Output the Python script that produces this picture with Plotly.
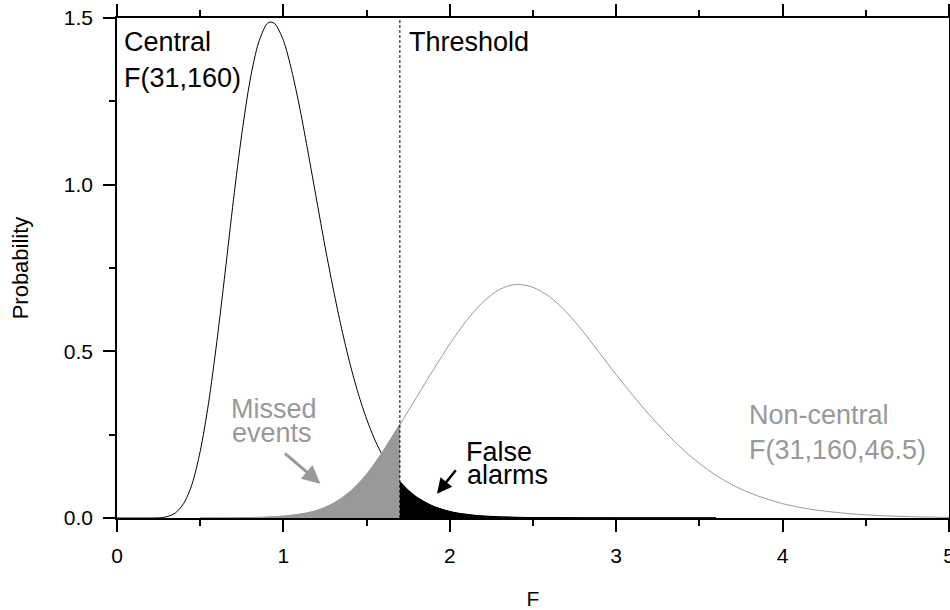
import plotly.graph_objects as go

# ---------------- data ----------------
central_x = [0.0, 0.2, 0.25, 0.3, 0.35, 0.4, 0.45, 0.5, 0.55, 0.6, 0.65, 0.7, 0.75, 0.8,
             0.85, 0.9, 0.925, 0.95, 1.0, 1.05, 1.1, 1.15, 1.2, 1.25, 1.3, 1.35, 1.4,
             1.45, 1.5, 1.55, 1.6, 1.65, 1.7, 1.75, 1.8, 1.9, 2.0, 2.1, 2.2, 2.4, 2.6,
             3.0, 3.6]
central_y = [0.0, 0.0, 0.0005, 0.004, 0.015, 0.043, 0.100, 0.200, 0.344, 0.529, 0.738,
             0.955, 1.152, 1.314, 1.425, 1.482, 1.488, 1.482, 1.433, 1.342, 1.226, 1.092,
             0.953, 0.815, 0.686, 0.568, 0.463, 0.373, 0.297, 0.234, 0.183, 0.141, 0.108,
             0.082, 0.062, 0.035, 0.019, 0.0103, 0.0055, 0.0015, 0.0004, 0.0, 0.0]

noncentral_x = [0.5, 0.7, 0.8, 0.9, 1.0, 1.1, 1.2, 1.3, 1.4, 1.5, 1.6, 1.7, 1.8, 1.9, 2.0,
                2.1, 2.2, 2.3, 2.4, 2.5, 2.6, 2.7, 2.8, 2.9, 3.0, 3.1, 3.2, 3.3, 3.4, 3.5,
                3.6, 3.7, 3.8, 3.9, 4.0, 4.1, 4.2, 4.3, 4.4, 4.5, 4.6, 4.7, 4.8, 4.9, 5.0]
noncentral_y = [0.0, 0.0002, 0.0008, 0.002, 0.005, 0.011, 0.022, 0.043, 0.078, 0.130, 0.200,
                0.280, 0.362, 0.444, 0.522, 0.592, 0.648, 0.686, 0.701, 0.692, 0.664, 0.618,
                0.560, 0.495, 0.430, 0.368, 0.309, 0.255, 0.206, 0.164, 0.128, 0.099, 0.076,
                0.058, 0.043, 0.032, 0.024, 0.018, 0.013, 0.0095, 0.007, 0.005, 0.0036,
                0.0026, 0.0018]

threshold = 1.7

x_ticks = [0, 1, 2, 3, 4, 5]
y_ticks = [0.0, 0.5, 1.0, 1.5]

GRAY = "#999999"
FONT = "Liberation Sans, Arial, sans-serif"
LABEL_SIZE = 27

# ---------------- figure ----------------
fig = go.Figure()

fig.add_trace(go.Scatter(x=central_x, y=central_y, mode="lines",
                         line=dict(color="black", width=1, shape="spline", smoothing=0.8),
                         hoverinfo="skip", showlegend=False))
fig.add_trace(go.Scatter(x=noncentral_x, y=noncentral_y, mode="lines",
                         line=dict(color=GRAY, width=1, shape="spline", smoothing=0.8),
                         hoverinfo="skip", showlegend=False))

# missed events: non-central below threshold
mx = [x for x in noncentral_x if x <= threshold]
my = [y for x, y in zip(noncentral_x, noncentral_y) if x <= threshold]
fig.add_trace(go.Scatter(x=mx, y=my, mode="lines", fill="tozeroy", fillcolor=GRAY,
                         line=dict(color=GRAY, width=1.5, shape="spline", smoothing=0.8),
                         hoverinfo="skip", showlegend=False))

# false alarms: central above threshold
fx = [x for x in central_x if x >= threshold]
fy = [y for x, y in zip(central_x, central_y) if x >= threshold]
fig.add_trace(go.Scatter(x=fx, y=fy, mode="lines", fill="tozeroy", fillcolor="black",
                         line=dict(color="black", width=1.5, shape="spline", smoothing=0.8),
                         hoverinfo="skip", showlegend=False))

fig.add_shape(type="line", x0=threshold, x1=threshold, y0=0, y1=1.5, xref="x", yref="y",
              line=dict(color="black", width=1, dash="3px,2px"), layer="above")

def label(text, x, y, color="black", height=None):
    fig.add_annotation(text=text, x=x, y=y, xref="x", yref="y", showarrow=False,
                       xanchor="left", yanchor="middle", borderpad=0, height=height,
                       valign="middle",
                       font=dict(family=FONT, size=LABEL_SIZE, color=color))

label("Central", 0.036, 1.427)
label("F(31,160)", 0.036, 1.320)
label("Threshold", 1.748, 1.427)
label("Missed", 0.682, 0.3285, GRAY, height=23)
label("events", 0.688, 0.258, GRAY, height=23)
label("False", 2.093, 0.1997, height=23)
label("alarms", 2.096, 0.131, height=23)
label("Non-central", 3.790, 0.308, GRAY)
label("F(31,160,46.5)", 3.790, 0.205, GRAY)

def arrow(x, y, ax, ay, color, width):
    fig.add_annotation(text="", x=x, y=y, ax=ax, ay=ay, xref="x", yref="y",
                       axref="x", ayref="y", showarrow=True, arrowhead=2,
                       arrowsize=1.2, arrowwidth=width, arrowcolor=color, standoff=0,
                       startstandoff=0)

arrow(1.222, 0.103, 1.0, 0.198, GRAY, 3)
arrow(1.923, 0.073, 2.043, 0.148, "black", 2.5)

axis_common = dict(
    showline=True, linecolor="black", linewidth=1.5, mirror="allticks",
    ticks="outside", ticklen=12, tickwidth=1.5, tickcolor="black",
    showgrid=False, zeroline=False, automargin=False, ticklabeloverflow="allow",
    tickfont=dict(family=FONT, size=21, color="black"),
)

fig.update_layout(
    width=950, height=610, autosize=False,
    margin=dict(l=117, r=1, t=18, b=92),
    paper_bgcolor="white", plot_bgcolor="white",
    font=dict(family=FONT, color="black"),
    xaxis=dict(range=[0, 5], tickvals=x_ticks, ticklabelstandoff=6,
               minor=dict(dtick=0.5, ticklen=6, tickwidth=1.5, tickcolor="black", ticks="outside"),
               title=dict(text="F", font=dict(family=FONT, size=21), standoff=26),
               **axis_common),
    yaxis=dict(range=[0, 1.5], tickvals=y_ticks, tickformat=".1f", ticklabelstandoff=6,
               minor=dict(dtick=0.25, ticklen=6, tickwidth=1.5, tickcolor="black", ticks="outside"),
               title=dict(text="Probability", font=dict(family=FONT, size=22), standoff=29),
               **axis_common),
)

fig.write_html("out.html")
